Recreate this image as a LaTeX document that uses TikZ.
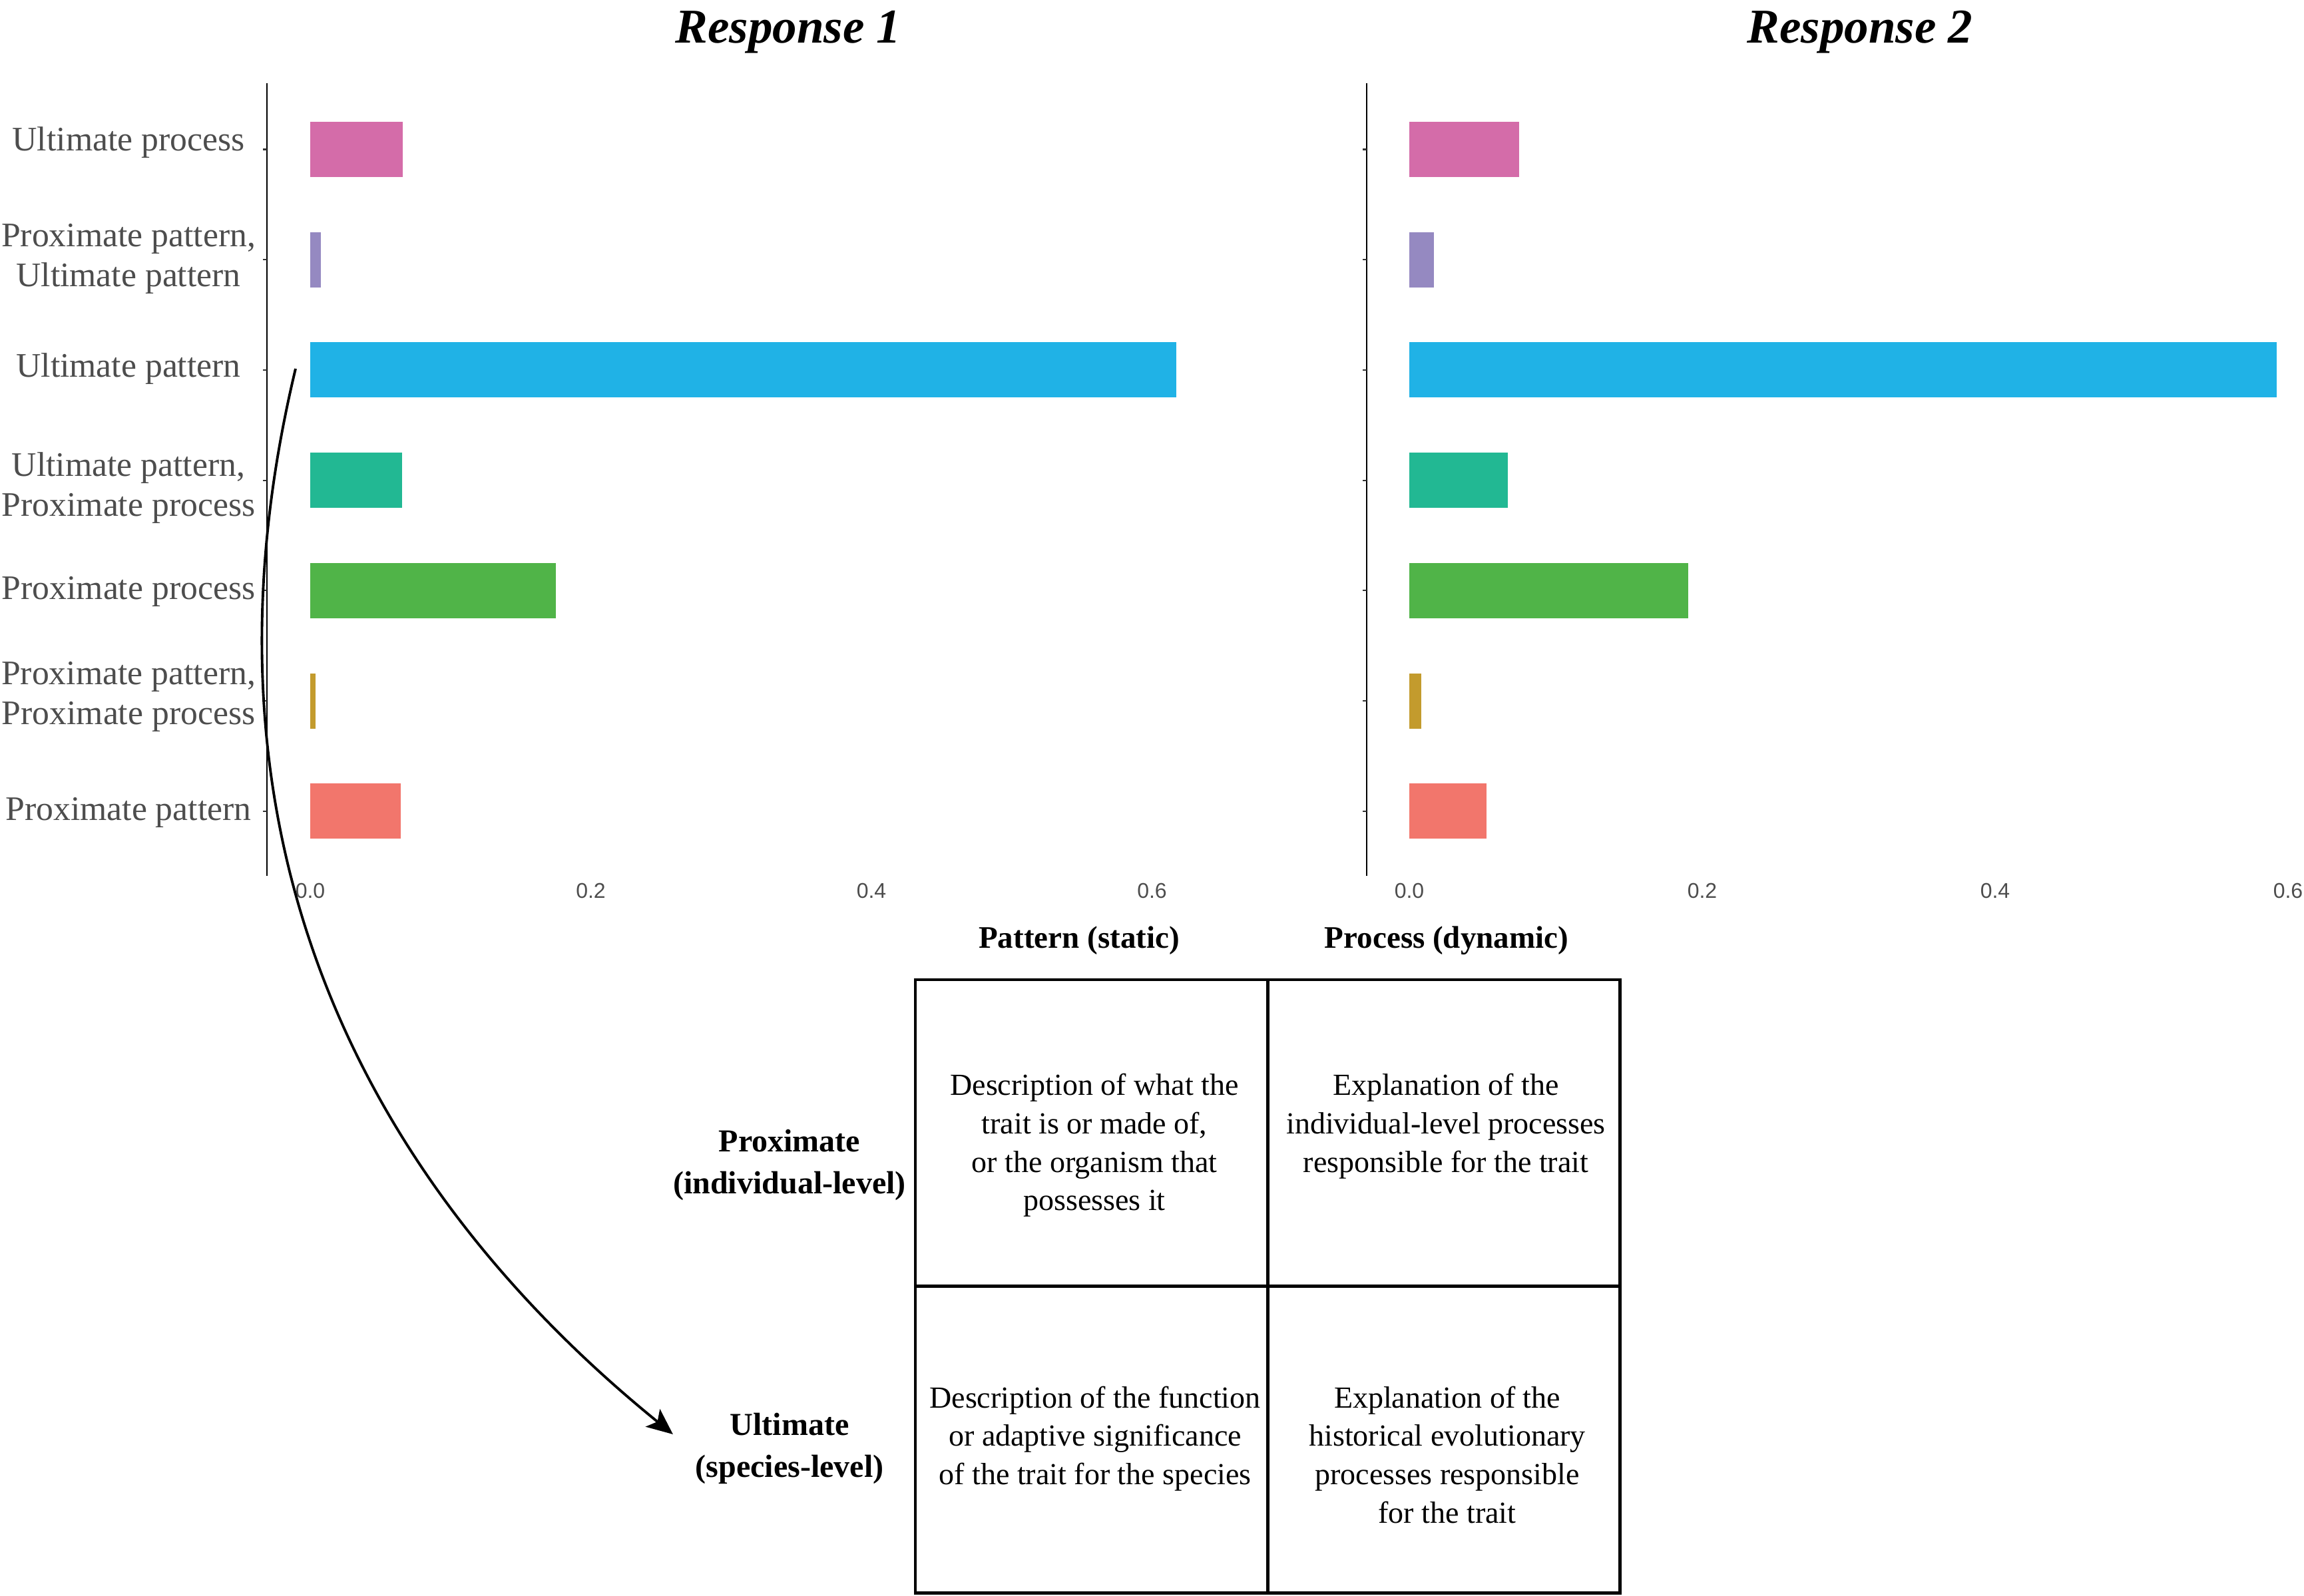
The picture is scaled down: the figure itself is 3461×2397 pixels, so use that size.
\documentclass[tikz,border=0pt]{standalone}
\usepackage{fontspec}
\setmainfont{Liberation Serif}
\newfontfamily\ticksans{Liberation Sans}
\usepackage{tikz}
\usetikzlibrary{arrows.meta}
\usetikzlibrary{calc}

\definecolor{labelgrey}{HTML}{4D4D4D}
\definecolor{tickgrey}{HTML}{333333}
\definecolor{barpink}{HTML}{D46CA9}
\definecolor{barpurple}{HTML}{9589C1}
\definecolor{barblue}{HTML}{20B2E6}
\definecolor{barteal}{HTML}{22B893}
\definecolor{bargreen}{HTML}{50B448}
\definecolor{bargold}{HTML}{C39B2D}
\definecolor{barsalmon}{HTML}{F2766C}

\begin{document}
\begin{tikzpicture}[x=0.01cm,y=-0.01cm,
	axislabel/.style={text=labelgrey,align=center,inner sep=0pt,font=\fontsize{14.7}{17.07}\selectfont},
	ticklabel/.style={text=labelgrey,inner sep=0pt,font=\ticksans\fontsize{9.1}{11}\selectfont},
	paneltitle/.style={inner sep=0pt,anchor=base,font=\bfseries\itshape\fontsize{20.77}{25}\selectfont},
	colhead/.style={inner sep=0pt,anchor=base,font=\bfseries\fontsize{13.37}{16}\selectfont},
	rowhead/.style={inner sep=0pt,anchor=north,align=center,font=\bfseries\fontsize{13.66}{17.93}\selectfont},
	cell/.style={shape=rectangle,draw,line width=1.3pt,minimum width=5.29cm,minimum height=4.605cm,inner sep=0pt},
	celltext/.style={inner sep=0pt,anchor=north,align=center,font=\fontsize{13.09}{16.4}\selectfont},
	axisline/.style={line width=0.5pt},
	tickline/.style={line width=0.6pt,tickgrey},
	arrowline/.style={line width=1.1pt,-{Stealth[length=0.39cm,width=0.34cm,inset=0.09cm]}}
	]
	\useasboundingbox (0,0) rectangle (3461,2397);
	% titles
	\draw (1184,65) node (title1) [paneltitle] {Response 1};
	\draw (2794,65) node (title2) [paneltitle] {Response 2};
	% category labels
	\draw (193,226) node (lup) [axislabel,anchor=base] {Ultimate process};
	\draw (193,336) node (lppup) [axislabel,anchor=north] {Proximate pattern,\\Ultimate pattern};
	\draw (193,566) node (lupa) [axislabel,anchor=base] {Ultimate pattern};
	\draw (193,679) node (lupapp) [axislabel,anchor=north] {Ultimate pattern,\\Proximate process};
	\draw (193,900) node (lpp) [axislabel,anchor=base] {Proximate process};
	\draw (193,994) node (lpapp) [axislabel,anchor=north] {Proximate pattern,\\Proximate process};
	\draw (193,1232) node (lpa) [axislabel,anchor=base] {Proximate pattern};
	% axes
	\draw [axisline] (401,125) -- (401,1316);
	\draw [axisline] (2053,125) -- (2053,1316);
	% bars: index/colour/response 1/response 2
	\foreach \i/\c/\a/\b in {0/barpink/0.0660/0.0750, 1/barpurple/0.0076/0.0168,
		2/barblue/0.6173/0.5923, 3/barteal/0.0655/0.0673, 4/bargreen/0.1751/0.1905,
		5/bargold/0.0038/0.0082, 6/barsalmon/0.0645/0.0527} {
		\pgfmathsetmacro{\yc}{224.5+165.7*\i}
		\fill [\c] (466,\yc-41.5) rectangle (466+2107.5*\a,\yc+41.5);
		\fill [\c] (2117,\yc-41.5) rectangle (2117+2200*\b,\yc+41.5);
		\draw [tickline] (395,\yc) -- (401,\yc);
		\draw [tickline] (2047,\yc) -- (2053,\yc);
	}
	% x tick labels
	\foreach \v/\t in {0/0.0,1/0.2,2/0.4,3/0.6} {
		\draw (466+421.5*\v,1338) node (ticka\v) [ticklabel] {\t};
		\draw (2117+440*\v,1338) node (tickb\v) [ticklabel] {\t};
	}
	% table
	\draw (1621,1424) node (pattern) [colhead] {Pattern (static)};
	\draw (2173,1424) node (process) [colhead] {Process (dynamic)};
	\draw (1186,1696) node (rowprox) [rowhead] {Proximate\\(individual-level)};
	\draw (1186,2122) node (rowult) [rowhead] {Ultimate\\(species-level)};
	\draw (1639.5,1702.5) node (proxpat) [cell] {};
	\draw (2169,1702.5) node (proxproc) [cell] {};
	\draw (1639.5,2163) node (ultpat) [cell] {};
	\draw (2169,2163) node (ultproc) [cell] {};
	\draw (1644,1612.6) node (proxpattext) [celltext] {Description of what the\\trait is or made of,\\or the organism that\\possesses it};
	\draw (2172,1612.6) node (proxproctext) [celltext] {Explanation of the\\individual-level processes\\responsible for the trait};
	\draw (1645,2082) node (ultpattext) [celltext] {Description of the function\\or adaptive significance\\of the trait for the species};
	\draw (2174,2082) node (ultproctext) [celltext] {Explanation of the\\historical evolutionary\\processes responsible\\for the trait};
	% arrow
	\coordinate (arrowfrom) at (444,554);
	\draw [arrowline] (arrowfrom) .. controls (276,1254) and (544,1776) .. ([xshift=-0.33cm,yshift=0.21cm]rowult.west);
\end{tikzpicture}
\end{document}
